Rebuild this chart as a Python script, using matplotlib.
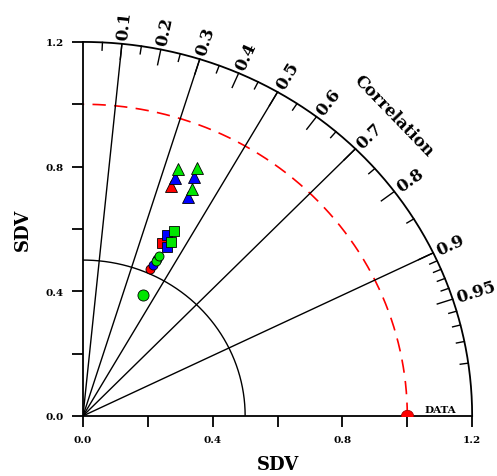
'''
Taylor diagram: normalised standard deviation vs correlation
'''
import numpy as np
import matplotlib
matplotlib.use('Agg')
import matplotlib.pyplot as plt

# Normalised SD (ratio) and correlation per point
red_ratio = [0.785, 0.606, 0.515]
red_cc = [0.345, 0.403, 0.402]
red_mark = ['^', 's', 'o']

blue_ratio = [0.815, 0.841, 0.774, 0.636, 0.601, 0.530, 0.553]
blue_cc = [0.348, 0.408, 0.420, 0.407, 0.431, 0.408, 0.412]
blue_mark = ['^', '^', '^', 's', 's', 'o', 'o']

green_ratio = [0.845, 0.870, 0.801, 0.657, 0.621, 0.546, 0.564, 0.430]
green_cc = [0.348, 0.405, 0.418, 0.428, 0.435, 0.412, 0.415, 0.432]
green_mark = ['^', '^', '^', 's', 's', 'o', 'o', 'O']

cor_labels = [0.1, 0.2, 0.3, 0.4, 0.5, 0.6, 0.7, 0.8, 0.9, 0.95]
cor_lines = [0.1, 0.3, 0.5, 0.7, 0.9]
minor_cc = [0.05, 0.15, 0.25, 0.35, 0.45, 0.55, 0.65, 0.75, 0.85,
            0.91, 0.92, 0.93, 0.94, 0.96, 0.97, 0.98, 0.99]
sd_ticks = [0.0, 0.2, 0.4, 0.6, 0.8, 1.0, 1.2]
sd_labels = ['0.0', '', '0.4', '', '0.8', '', '1.2']

serif = 'DejaVu Serif'


def pol(r, cc):
    th = np.arccos(cc)
    return r * np.cos(th), r * np.sin(th)


fig = plt.figure(figsize=(4.97, 4.77), dpi=100)
ax = fig.add_axes([0.167, 0.126, 0.783, 0.784])
ax.set_xlim(0, 1.2)
ax.set_ylim(0, 1.2)
ax.spines['top'].set_visible(False)
ax.spines['right'].set_visible(False)
ax.spines['left'].set_linewidth(1.3)
ax.spines['bottom'].set_linewidth(1.3)
ax.set_xticks(sd_ticks)
ax.set_yticks(sd_ticks)
ax.set_xticklabels(sd_labels, fontsize=7.5, fontweight='bold', family=serif)
ax.set_yticklabels(sd_labels, fontsize=7.5, fontweight='bold', family=serif)
ax.tick_params(direction='out', length=8, width=1.3, pad=6)
ax.set_xlabel('SDV', fontsize=13, fontweight='bold', family=serif, labelpad=8)
ax.set_ylabel('SDV', fontsize=13, fontweight='bold', family=serif, labelpad=10)

t = np.linspace(0, np.pi / 2, 300)
# outer arc
ax.plot(1.2 * np.cos(t), 1.2 * np.sin(t), color='black', lw=1.3, clip_on=False)
# arc at 0.5
ax.plot(0.5 * np.cos(t), 0.5 * np.sin(t), color='black', lw=1.0)
# reference arc
ax.plot(1.0 * np.cos(t), 1.0 * np.sin(t), color='red', lw=1.2,
        dashes=(8, 5))

# radial lines
for c in cor_lines:
    x, y = pol(1.2, c)
    ax.plot([0, x], [0, y], color='black', lw=1.0)

# ticks on the correlation arc
for c in cor_labels:
    x0, y0 = pol(1.2, c)
    x1, y1 = pol(1.15, c)
    ax.plot([x0, x1], [y0, y1], color='black', lw=1.0, clip_on=False)
for c in minor_cc:
    x0, y0 = pol(1.2, c)
    x1, y1 = pol(1.175, c)
    ax.plot([x0, x1], [y0, y1], color='black', lw=1.0, clip_on=False)


def disp_angle(c):
    p0 = ax.transData.transform((0, 0))
    p1 = ax.transData.transform(pol(1.0, c))
    return np.degrees(np.arctan2(p1[1] - p0[1], p1[0] - p0[0]))


for c in cor_labels:
    x, y = pol(1.215, c)
    ax.text(x, y, '%g' % c, rotation=disp_angle(c), rotation_mode='anchor',
            ha='left', va='center', fontsize=12, fontweight='bold',
            family=serif, clip_on=False)

x, y = pol(1.36, 0.705)
ax.text(x, y, 'Correlation', rotation=disp_angle(0.705) - 90,
        rotation_mode='anchor', ha='center', va='center', fontsize=12,
        fontweight='bold', family=serif, clip_on=False)

# reference point
ax.plot(1.0, 0.0, marker='o', ms=9, color='red', mec='#990000', mew=0.5,
        clip_on=True, zorder=5)
ax.text(1.054, 0.012, 'DATA', fontsize=7.5, fontweight='bold', family=serif)


def draw(ratio, cc, marks, color):
    for r, c, m in zip(ratio, cc, marks):
        x, y = pol(r, c)
        size = {'^': 9, 's': 7.5, 'o': 6.5, 'O': 8}[m]
        ax.plot(x, y, marker=m.lower(), ms=size, color=color, mec='black',
                mew=0.6, linestyle='none', zorder=6)


draw(red_ratio, red_cc, red_mark, '#ff0000')
draw(blue_ratio, blue_cc, blue_mark, '#0000ff')
draw(green_ratio, green_cc, green_mark, '#00e600')

fig.savefig('out.png', dpi=100)
